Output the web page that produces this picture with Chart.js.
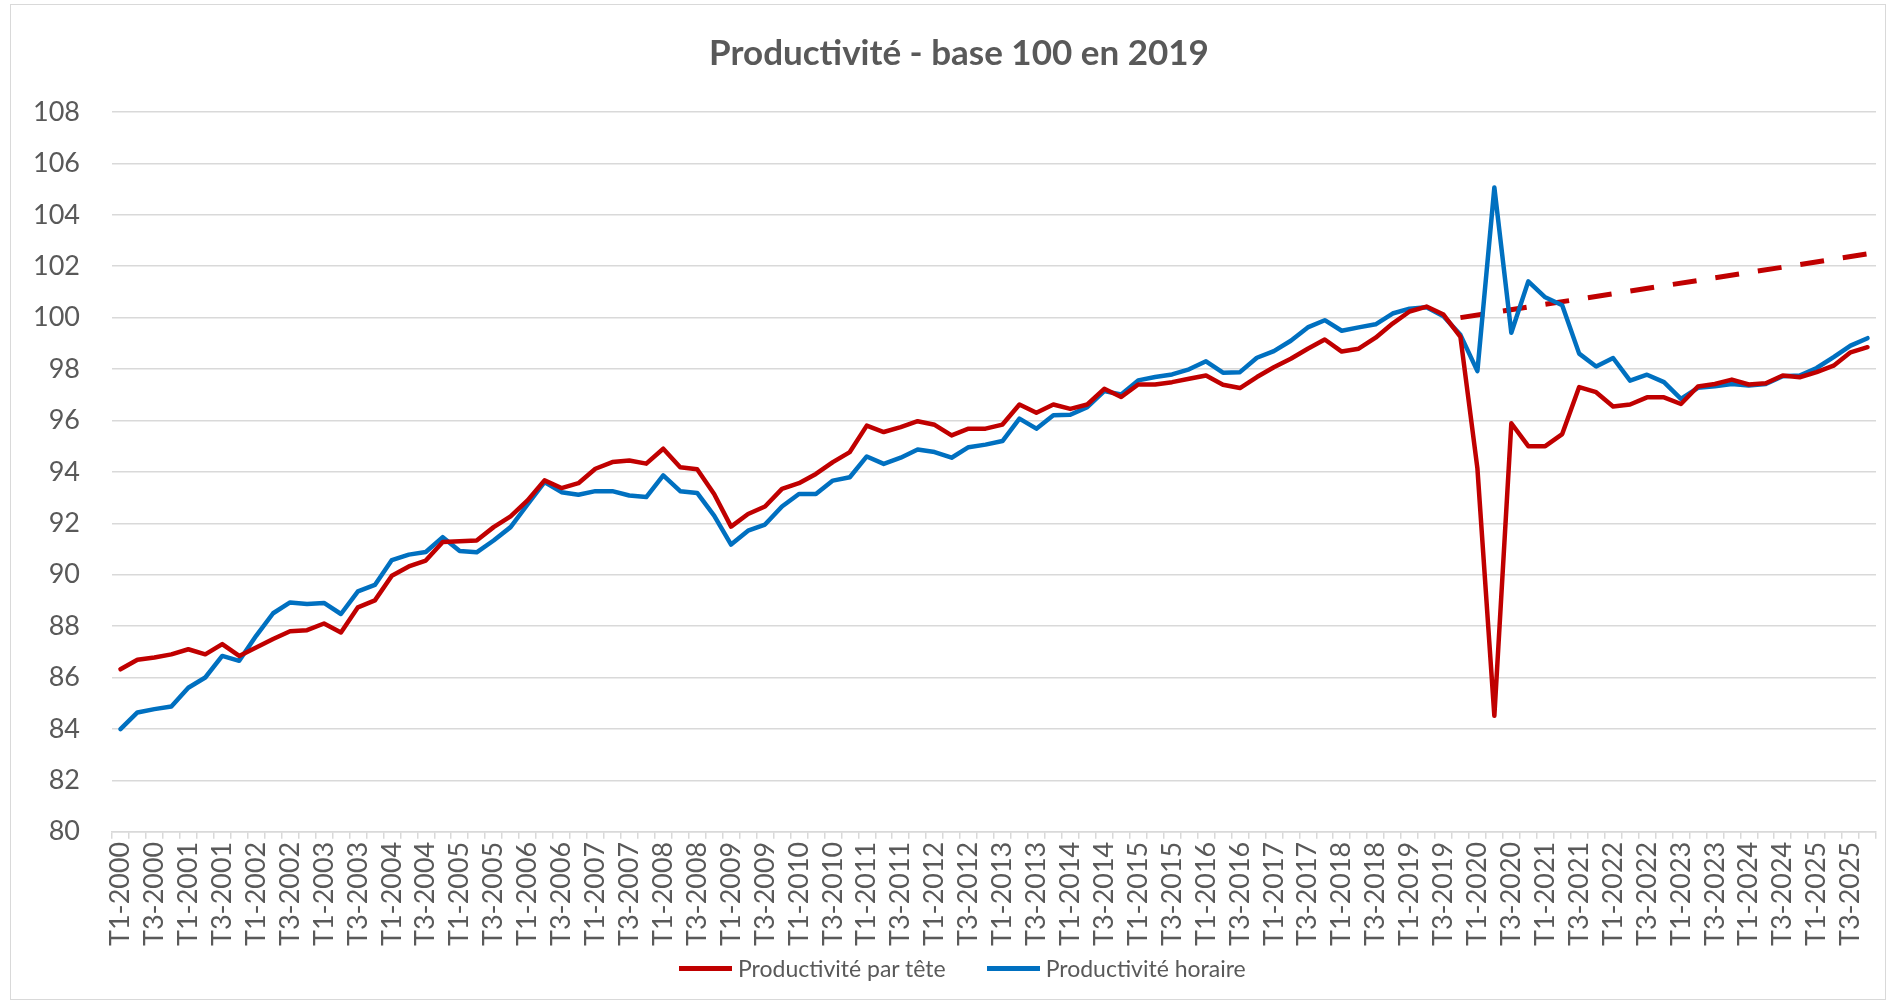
<!DOCTYPE html>
<html lang="fr">
<head>
<meta charset="utf-8">
<title>Productivité - base 100 en 2019</title>
<script src="https://cdn.jsdelivr.net/npm/chart.js@4.4.1/dist/chart.umd.min.js"></script>
<style>
  html, body { margin: 0; padding: 0; background: #fff; overflow: hidden; font-family: Lato, sans-serif; }
  #cadre {
    position: absolute; left: 10px; top: 4px; width: 1876px; height: 996px;
    border: 1px solid #d9d9d9; box-sizing: border-box;
  }
  #zone { position: absolute; left: 0; top: 0; width: 1891px; height: 1003px; }
  #titre {
    position: absolute; left: 0; top: 30px; width: 1918px; text-align: center;
    font-size: 35px; font-weight: bold; color: #595959; line-height: 42px; white-space: nowrap;
  }
  #legende {
    position: absolute; left: 679px; top: 953px; height: 30px;
    display: flex; align-items: center; font-size: 23px; color: #595959; white-space: nowrap;
  }
  .item { display: flex; align-items: center; margin-right: 41px; }
  .trait { display: inline-block; width: 53px; height: 5px; margin-right: 6px; }
</style>
</head>
<body>
<div id="cadre"></div>
<div id="zone"><canvas id="graphique" width="1891" height="1003"></canvas></div>
<div id="titre">Productivité - base 100 en 2019</div>
<div id="legende"></div>
<script>
// Trimestres T1-2000 ... T4-2025
const annees = [];
for (let a = 2000; a <= 2025; a++) annees.push(a);
const trimestres = ["T1", "T2", "T3", "T4"];
const categories = [];
annees.forEach((a) => trimestres.forEach((t) => categories.push(t + "-" + a)));

// Productivité par tête
const parTete = [
  86.32, 86.69, 86.78, 86.90, 87.10, 86.90, 87.30, 86.84, 87.17, 87.50, 87.80, 87.84,
  88.10, 87.75, 88.73, 89.00, 89.96, 90.32, 90.55, 91.27, 91.30, 91.33, 91.85, 92.27,
  92.89, 93.67, 93.37, 93.56, 94.12, 94.38, 94.44, 94.32, 94.90, 94.18, 94.10, 93.14,
  91.87, 92.36, 92.65, 93.34, 93.56, 93.92, 94.38, 94.77, 95.80, 95.55, 95.74, 95.97,
  95.83, 95.42, 95.68, 95.68, 95.84, 96.62, 96.30, 96.62, 96.45, 96.62, 97.23, 96.91,
  97.40, 97.40, 97.49, 97.62, 97.75, 97.39, 97.26, 97.69, 98.07, 98.40, 98.79, 99.15,
  98.68, 98.79, 99.22, 99.77, 100.24, 100.43, 100.12, 99.25, 94.14, 84.51, 95.89, 95.00,
  95.00, 95.47, 97.30, 97.10, 96.54, 96.62, 96.90, 96.90, 96.64, 97.32, 97.42, 97.59,
  97.40, 97.45, 97.75, 97.68, 97.88, 98.13, 98.65, 98.85
];

// Productivité horaire
const horaire = [
  83.99, 84.64, 84.77, 84.87, 85.60, 86.00, 86.84, 86.65, 87.62, 88.50, 88.92, 88.86,
  88.90, 88.47, 89.35, 89.60, 90.57, 90.78, 90.88, 91.46, 90.92, 90.87, 91.33, 91.85,
  92.73, 93.60, 93.21, 93.11, 93.25, 93.25, 93.08, 93.02, 93.86, 93.25, 93.18, 92.30,
  91.17, 91.71, 91.95, 92.65, 93.14, 93.14, 93.66, 93.79, 94.60, 94.31, 94.55, 94.87,
  94.77, 94.55, 94.96, 95.06, 95.20, 96.07, 95.68, 96.20, 96.22, 96.52, 97.14, 97.01,
  97.56, 97.69, 97.79, 97.99, 98.30, 97.86, 97.88, 98.44, 98.70, 99.10, 99.62, 99.90,
  99.49, 99.62, 99.74, 100.16, 100.35, 100.40, 100.05, 99.33, 97.92, 105.06, 99.41, 101.41,
  100.79, 100.48, 98.60, 98.10, 98.43, 97.55, 97.78, 97.49, 96.84, 97.27, 97.33, 97.42,
  97.36, 97.42, 97.72, 97.75, 98.04, 98.46, 98.91, 99.20
];

// Tendance pré-Covid (pointillés) : début T4-2019, fin T4-2025
const tendanceDebut = { cat: "T4-2019", val: 100.0 };
const tendanceFin = { cat: "T4-2025", val: 102.48 };

const tendance = categories.map((c) =>
  c === tendanceDebut.cat ? tendanceDebut.val : c === tendanceFin.cat ? tendanceFin.val : null
);

const gris = "#595959";
const grille = "#d9d9d9";
const rouge = "#c00000";
const bleu = "#0070c0";

const graphique = new Chart(document.getElementById("graphique"), {
  type: "line",
  data: {
    labels: categories,
    datasets: [
      {
        label: "Productivité par tête",
        data: parTete,
        borderColor: rouge,
        backgroundColor: rouge,
        borderWidth: 4.5,
        pointRadius: 0,
        borderJoinStyle: "round",
        borderCapStyle: "round",
        tension: 0,
      },
      {
        label: "Productivité horaire",
        data: horaire,
        borderColor: bleu,
        backgroundColor: bleu,
        borderWidth: 4.5,
        pointRadius: 0,
        borderJoinStyle: "round",
        borderCapStyle: "round",
        tension: 0,
      },
      {
        label: "Tendance",
        data: tendance,
        borderColor: rouge,
        backgroundColor: rouge,
        borderWidth: 5,
        borderDash: [24, 19],
        pointRadius: 0,
        spanGaps: true,
        tension: 0,
        legende: false,
      },
    ],
  },
  options: {
    responsive: false,
    animation: false,
    devicePixelRatio: 1,
    layout: { padding: { left: 1, right: 15, top: 112, bottom: 54 } },
    plugins: {
      tooltip: { enabled: false },
      title: { display: false },
      legend: { display: false },
    },
    scales: {
      x: {
        offset: true,
        // pas de marge supplémentaire à droite pour la dernière étiquette
        afterFit: (scale) => {
          scale.paddingRight = 0;
        },
        grid: {
          offset: true,
          drawOnChartArea: false,
          drawTicks: true,
          tickLength: 7,
          tickColor: grille,
          lineWidth: 1.5,
        },
        border: { display: true, color: grille, width: 1.5 },
        ticks: {
          autoSkip: false,
          minRotation: 90,
          maxRotation: 90,
          padding: 3,
          color: gris,
          font: { family: "Lato", size: 27 },
          callback: function (value, index) {
            return index % 2 === 0 ? this.getLabelForValue(value) : "";
          },
        },
      },
      y: {
        min: 80,
        max: 108,
        grid: { color: grille, lineWidth: 1.5, drawTicks: false },
        border: { display: false },
        ticks: {
          stepSize: 2,
          padding: 32,
          color: gris,
          font: { family: "Lato", size: 27 },
        },
      },
    },
  },
});

// Légende construite à partir des séries du graphique
const legende = document.getElementById("legende");
graphique.data.datasets
  .filter((ds) => ds.legende !== false)
  .forEach((ds) => {
    const item = document.createElement("span");
    item.className = "item";
    const trait = document.createElement("span");
    trait.className = "trait";
    trait.style.background = ds.borderColor;
    item.appendChild(trait);
    item.appendChild(document.createTextNode(ds.label));
    legende.appendChild(item);
  });
</script>
</body>
</html>
